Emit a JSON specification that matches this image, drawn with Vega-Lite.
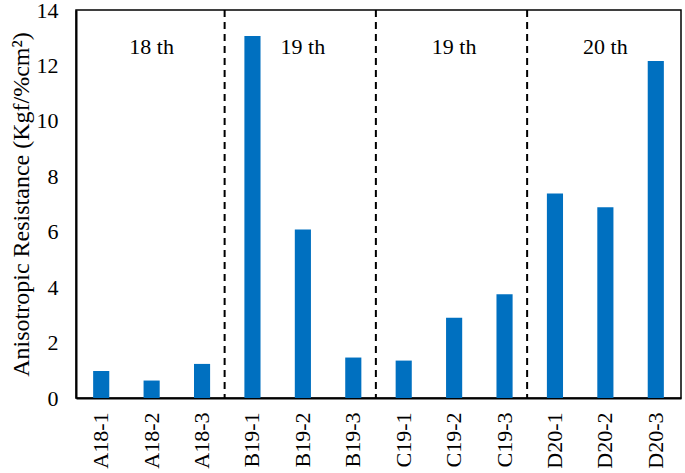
{
  "$schema": "https://vega.github.io/schema/vega-lite/v6.json",
  "autosize": {"type": "none"},
  "padding": {"left": 76, "top": 10, "right": 4, "bottom": 75},
  "width": 605,
  "height": 388,
  "config": {
    "font": "Liberation Serif",
    "view": {"stroke": "black", "strokeWidth": 1.5},
    "axis": {"grid": false, "ticks": false, "domainColor": "black", "domainWidth": 2, "labelColor": "black", "titleColor": "black", "labelFont": "Liberation Serif", "titleFont": "Liberation Serif", "labelFontSize": 22, "titleFontSize": 24, "titleFontWeight": "normal"}
  },
  "datasets": {
    "bars": [
      {"sample": "A18-1", "value": 0.97},
      {"sample": "A18-2", "value": 0.63},
      {"sample": "A18-3", "value": 1.23},
      {"sample": "B19-1", "value": 13.06},
      {"sample": "B19-2", "value": 6.08},
      {"sample": "B19-3", "value": 1.46},
      {"sample": "C19-1", "value": 1.35},
      {"sample": "C19-2", "value": 2.9},
      {"sample": "C19-3", "value": 3.74},
      {"sample": "D20-1", "value": 7.38},
      {"sample": "D20-2", "value": 6.88},
      {"sample": "D20-3", "value": 12.16}
    ],
    "dividers": [
      {"sample": "A18-3"},
      {"sample": "B19-3"},
      {"sample": "C19-3"}
    ],
    "groups": [
      {"sample": "A18-2", "label": "18 th", "y": 12.65},
      {"sample": "B19-2", "label": "19 th", "y": 12.65},
      {"sample": "C19-2", "label": "19 th", "y": 12.65},
      {"sample": "D20-2", "label": "20 th", "y": 12.65}
    ]
  },
  "layer": [
    {
      "data": {"name": "bars"},
      "mark": {"type": "bar", "color": "#0070C0"},
      "encoding": {
        "x": {"field": "sample", "type": "nominal", "sort": null, "scale": {"paddingInner": 0.68, "paddingOuter": 0.34},
              "axis": {"title": null, "labelAngle": -90, "labelPadding": 14}},
        "y": {"field": "value", "type": "quantitative", "scale": {"domain": [0, 14]},
              "axis": {"title": "Anisotropic Resistance (Kgf/%cm²)", "values": [0, 2, 4, 6, 8, 10, 12, 14], "labelPadding": 18, "titlePadding": 3}}
      }
    },
    {
      "data": {"name": "dividers"},
      "mark": {"type": "rule", "color": "black", "strokeWidth": 2, "strokeDash": [7, 5]},
      "encoding": {
        "x": {"field": "sample", "type": "nominal", "sort": null, "bandPosition": 1.9}
      }
    },
    {
      "data": {"name": "groups"},
      "mark": {"type": "text", "fontSize": 22, "font": "Liberation Serif", "color": "black", "baseline": "middle", "align": "center"},
      "encoding": {
        "x": {"field": "sample", "type": "nominal", "sort": null},
        "y": {"field": "y", "type": "quantitative"},
        "text": {"field": "label"}
      }
    }
  ]
}
